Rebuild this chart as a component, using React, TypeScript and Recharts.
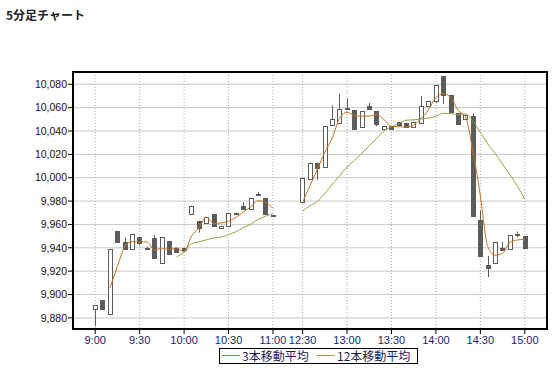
import {
  ComposedChart,
  Bar,
  Line,
  XAxis,
  YAxis,
  CartesianGrid,
  ReferenceArea,
} from "recharts";

// 5-minute slots; the three nulls are the lunch-break gap between 11:00 and 12:30
const times = [
  "9:00", "9:05", "9:10", "9:15", "9:20", "9:25", "9:30", "9:35", "9:40", "9:45", "9:50", "9:55",
  "10:00", "10:05", "10:10", "10:15", "10:20", "10:25", "10:30", "10:35", "10:40", "10:45", "10:50", "10:55",
  "11:00", null, null, null,
  "12:30", "12:35", "12:40", "12:45", "12:50", "12:55", "13:00", "13:05", "13:10", "13:15", "13:20", "13:25",
  "13:30", "13:35", "13:40", "13:45", "13:50", "13:55", "14:00", "14:05", "14:10", "14:15", "14:20", "14:25",
  "14:30", "14:35", "14:40", "14:45", "14:50", "14:55", "15:00",
];

const opens = [
  9888, 9895, 9883, 9954, 9945, 9939, 9949, 9940, 9948, 9927, 9946, 9940,
  9940, 9969, 9963, 9961, 9969, 9957, 9959, 9970, 9976, 9973, 9986, 9983,
  9968, null, null, null,
  9979, 9999, 10013, 10009, 10045, 10047, 10060, 10058, 10043, 10061, 10057, 10042,
  10044, 10048, 10047, 10043, 10047, 10061, 10066, 10087, 10071, 10055, 10050, 10053,
  9964, 9925, 9927, 9940, 9939, 9952, 9950,
];

const highs = [
  9891, 9895, 9939, 9954, 9949, 9952, 9949, 9941, 9951, 9949, 9946, 9940,
  9940, 9976, 9963, 9966, 9969, 9959, 9970, 9970, 9979, 9983, 9988, 9983,
  9968, null, null, null,
  10000, 10013, 10013, 10044, 10062, 10072, 10068, 10058, 10057, 10064, 10057, 10044,
  10044, 10048, 10047, 10048, 10070, 10066, 10079, 10087, 10071, 10055, 10054, 10055,
  9972, 9933, 9945, 9945, 9951, 9954, 9950,
];

const lows = [
  9873, 9887, 9883, 9945, 9939, 9939, 9942, 9939, 9931, 9927, 9935, 9936,
  9938, 9968, 9953, 9961, 9959, 9957, 9959, 9969, 9973, 9973, 9985, 9969,
  9967, null, null, null,
  9979, 9999, 9998, 10009, 10045, 10047, 10059, 10042, 10043, 10059, 10044, 10042,
  10042, 10045, 10043, 10043, 10047, 10061, 10064, 10063, 10056, 10046, 10050, 9967,
  9933, 9915, 9926, 9938, 9939, 9949, 9940,
];

const closes = [
  9891, 9888, 9939, 9945, 9939, 9952, 9944, 9939, 9931, 9949, 9935, 9936,
  9938, 9976, 9957, 9966, 9959, 9959, 9970, 9969, 9973, 9983, 9985, 9969,
  9967, null, null, null,
  10000, 10013, 10008, 10044, 10050, 10059, 10059, 10042, 10057, 10059, 10046, 10044,
  10042, 10045, 10043, 10048, 10061, 10066, 10079, 10071, 10056, 10046, 10054, 9967,
  9933, 9923, 9945, 9938, 9951, 9951, 9940,
];

const ma3 = [
  null, null, 9906.0, 9924.0, 9941.0, 9945.3, 9945.0, 9945.0, 9938.0, 9939.7, 9938.3, 9940.0,
  9936.3, 9950.0, 9957.0, 9966.3, 9960.7, 9961.3, 9962.7, 9966.0, 9970.7, 9975.0, 9980.3, 9979.0,
  9973.7, null, null, null,
  9978.7, 9993.3, 10007.0, 10021.7, 10034.0, 10051.0, 10056.0, 10053.3, 10052.7, 10052.7, 10054.0, 10049.7,
  10044.0, 10043.7, 10043.3, 10045.3, 10050.7, 10058.3, 10068.7, 10072.0, 10068.7, 10057.7, 10052.0, 10022.3,
  9984.7, 9941.0, 9933.7, 9935.3, 9944.7, 9946.7, 9947.3,
];

const ma12 = [
  null, null, null, null, null, null, null, null, null, null, null, 9932.3,
  9936.3, 9943.6, 9945.1, 9946.8, 9948.5, 9949.1, 9951.3, 9953.8, 9957.3, 9960.1, 9964.3, 9967.0,
  9969.4, null, null, null,
  9971.4, 9976.1, 9979.6, 9986.7, 9994.3, 10001.7, 10009.2, 10014.9, 10021.1, 10027.3, 10033.7, 10040.1,
  10043.6, 10046.3, 10049.2, 10049.5, 10050.4, 10051.0, 10052.7, 10055.1, 10055.0, 10053.9, 10054.6, 10048.2,
  10039.1, 10028.9, 10020.8, 10011.6, 10002.4, 9992.8, 9981.3,
];

const tickLabels = ["9:00", "9:30", "10:00", "10:30", "11:00", "12:30", "13:00", "13:30", "14:00", "14:30", "15:00"];
const yTicks = [9880, 9900, 9920, 9940, 9960, 9980, 10000, 10020, 10040, 10060, 10080];

const MA3_COLOR = "#c8701e";
const MA12_COLOR = "#8aa848";

const data = times.map((time, i) => ({
  idx: i,
  time,
  open: opens[i],
  high: highs[i],
  low: lows[i],
  close: closes[i],
  range: opens[i] == null ? null : [lows[i], highs[i]],
  ma3: ma3[i],
  ma12: ma12[i],
}));

const xTicks = tickLabels.map((t) => times.indexOf(t));

function Candle(props: any) {
  const { x, y, width, height, payload } = props;
  if (!payload || payload.open == null) return null;
  const { open, close, high, low } = payload;
  const top = Math.min(y, y + height);
  const span = Math.abs(height);
  const unit = high > low ? span / (high - low) : 0;
  const toY = (v: number) => top + (high - v) * unit;
  const c = Math.round(x + width / 2);
  const up = close >= open;
  const bTop = Math.round(toY(Math.max(open, close)));
  const bBot = Math.round(toY(Math.min(open, close)));
  const color = "#5c5c5c";
  return (
    <g>
      <line x1={c + 0.5} x2={c + 0.5} y1={top} y2={top + span} stroke={color} strokeWidth={1} />
      <rect
        x={c - 1.5}
        y={bTop + 0.5}
        width={4}
        height={Math.max(bBot - bTop, 1)}
        fill={up ? "#ffffff" : color}
        stroke={color}
        strokeWidth={1}
      />
    </g>
  );
}

export default function App() {
  return (
    <div
      style={{
        position: "absolute",
        left: 0,
        top: 0,
        width: 559,
        height: 369,
        background: "#fff",
        fontFamily: '"Liberation Sans", Arial, sans-serif',
      }}
    >
      <div
        style={{
          position: "absolute",
          left: 6,
          top: 8,
          fontSize: 12,
          fontWeight: "bold",
          color: "#222",
          fontFamily: '"Noto Sans CJK JP", sans-serif',
          lineHeight: "14px",
        }}
      >
        5分足チャート
      </div>
      <ComposedChart
        width={559}
        height={369}
        data={data}
        margin={{ top: 72, right: 12, bottom: 20, left: 0 }}
        style={{ position: "absolute", left: 0, top: 0 }}
      >
        <CartesianGrid vertical={false} stroke="#c8c8c8" />
        <CartesianGrid horizontal={false} stroke="#a8a8a8" strokeDasharray="1 2" />
        <XAxis
          dataKey="idx"
          type="number"
          domain={[-3, 61]}
          ticks={xTicks}
          interval={0}
          allowDataOverflow
          tickFormatter={(v) => times[v] ?? ""}
          height={20}
          tickSize={5}
          tickMargin={2}
          axisLine={{ stroke: "#000", strokeWidth: 2 }}
          tickLine={{ stroke: "#000" }}
          tick={{ fontSize: 11, fill: "#1a1a6a" }}
        />
        <YAxis
          type="number"
          domain={[9870.5, 10090.5]}
          ticks={yTicks}
          interval={0}
          allowDataOverflow
          width={73}
          tickSize={5}
          tickMargin={1}
          tickFormatter={(v) => v.toLocaleString("en-US")}
          axisLine={{ stroke: "#000", strokeWidth: 2 }}
          tickLine={{ stroke: "#000" }}
          tick={{ fontSize: 10.5, fill: "#111" }}
        />
        <Bar dataKey="range" barSize={5} shape={<Candle />} isAnimationActive={false} />
        <Line
          type="monotone"
          dataKey="ma12"
          stroke={MA12_COLOR}
          strokeWidth={1}
          dot={false}
          activeDot={false}
          isAnimationActive={false}
        />
        <Line
          type="monotone"
          dataKey="ma3"
          stroke={MA3_COLOR}
          strokeWidth={1}
          dot={false}
          activeDot={false}
          isAnimationActive={false}
        />
        <ReferenceArea
          x1={-3}
          x2={61}
          y1={9870.5}
          y2={10090.5}
          fill="none"
          stroke="#000"
          strokeWidth={2}
          ifOverflow="visible"
        />
      </ComposedChart>
      <div
        style={{
          position: "absolute",
          left: 219,
          top: 348,
          width: 199,
          height: 16,
          border: "1px solid #000",
          boxSizing: "border-box",
          fontFamily: '"Noto Sans CJK JP", sans-serif',
          fontSize: 12,
          color: "#1c1c50",
        }}
      >
        <div style={{ position: "absolute", left: 2, top: 6, width: 18, height: 1, background: MA3_COLOR }} />
        <div style={{ position: "absolute", left: 22, top: -1, lineHeight: "15px", whiteSpace: "nowrap" }}>3本移動平均</div>
        <div style={{ position: "absolute", left: 97, top: 6, width: 18, height: 1, background: MA12_COLOR }} />
        <div style={{ position: "absolute", left: 117, top: -1, lineHeight: "15px", whiteSpace: "nowrap" }}>12本移動平均</div>
      </div>
    </div>
  );
}
